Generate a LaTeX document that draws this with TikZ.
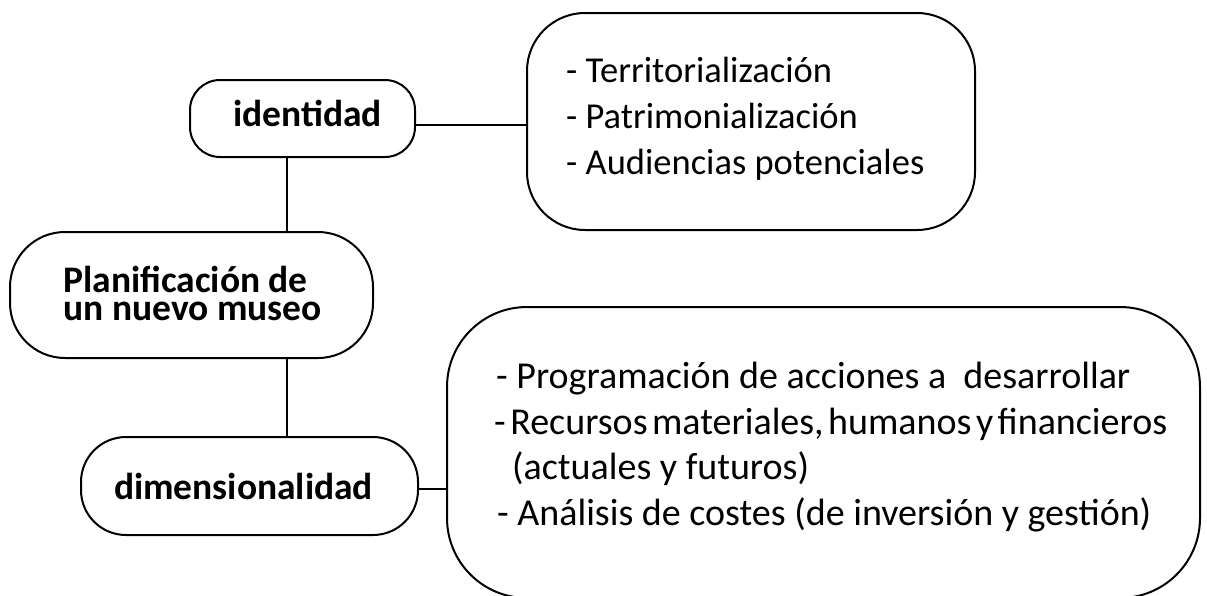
\documentclass[tikz,border=0pt]{standalone}
\usepackage{fontspec}
\setmainfont{Carlito}
\begin{document}
\begin{tikzpicture}[x=1pt,y=-1pt,
  box/.style={draw=black, line width=2pt, fill=white, inner sep=0pt},
  conn/.style={draw=black, line width=2pt},
  txt/.style={inner sep=0pt, align=left, font=\fontsize{36.5}{46}\selectfont},
  btxt/.style={inner sep=0pt, align=left, font=\fontsize{37.5}{28}\selectfont\bfseries}]
\useasboundingbox (0,0) rectangle (1207,595);
% boxes
\node[box, rounded corners=30pt, minimum width=225pt, minimum height=77pt] (ident) at (302.5,118.5) {};
\node[btxt] (identt) at (307.5,113) {identidad};
\node[box, rounded corners=58pt, minimum width=448pt, minimum height=217pt] (tbox) at (751,121.5) {};
\node[txt, anchor=west] (tboxt) at (566,119) {- Territorialización\\- Patrimonialización\\- Audiencias potenciales};
\node[box, rounded corners=55pt, minimum width=363pt, minimum height=126pt] (plan) at (191.5,295) {};
\node[btxt] (plant) at (192.5,293) {Planificación de\\un nuevo museo};
\node[box, rounded corners=45pt, minimum width=337pt, minimum height=98pt] (dim) at (249.5,486) {};
\node[btxt] (dimt) at (243.5,486) {dimensionalidad};
\node[box, rounded corners=80pt, minimum width=753pt, minimum height=291pt] (bbox) at (823.5,452.5) {};
\node[txt, anchor=west, font=\fontsize{38}{45.7}\selectfont] (bboxt) at (496,447) {- Programación de acciones a~ desarrollar\\\hspace*{-2pt}{\spaceskip=4.5pt plus 0pt minus 0pt - Recursos materiales, humanos y financieros}\\\hspace*{16pt}(actuales y futuros)\\\hspace*{1pt}- Análisis de costes (de inversión y gestión)};
% connectors
\coordinate (vx) at (286.5,0);
\draw[conn] ([yshift=-6.5pt]ident.east) -- ([yshift=-6.5pt]ident.east -| tbox.west);
\draw[conn] (ident.south -| vx) -- (plan.north -| vx);
\draw[conn] (plan.south -| vx) -- (dim.north -| vx);
\draw[conn] ([yshift=-3pt]dim.east) -- ([yshift=-3pt]dim.east -| bbox.west);
\end{tikzpicture}
\end{document}
